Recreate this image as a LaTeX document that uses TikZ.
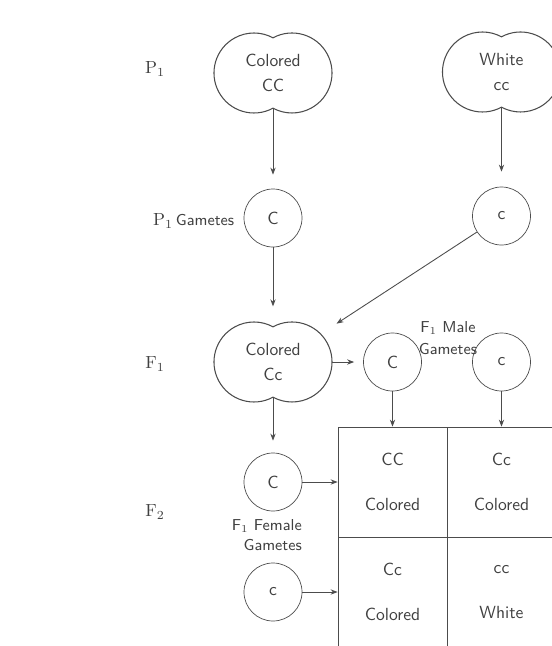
\documentclass[tikz,border=0pt]{standalone}
\usepackage{tikz}
\usetikzlibrary{arrows.meta,positioning}
\begin{document}
\begin{tikzpicture}[
      arrow/.style={
        -{Stealth[length=4pt,width=3pt]},
        draw=black!70,
        line width=0.5pt
      },
      lobe/.style={
        draw=black!70,
        line width=0.6pt
      },
      plant/.style={
        minimum width=2.36cm,
        minimum height=1.41cm,
        inner sep=0pt,
        align=center,
        text=black!75,
        font=\sffamily
      },
      gamete/.style={
        draw=black!70,
        circle,
        minimum size=1.16cm,
        inner sep=0pt,
        text=black!75,
        font=\sffamily
      },
      cell/.style={
        draw=black!70,
        minimum width=2.18cm,
        minimum height=2.2cm,
        align=center,
        text=black!75,
        font=\sffamily
      },
      heading/.style={
        text=black!75
      },
      gametes/.style={
        align=center,
        text=black!75,
        font=\small\sffamily
      }
    ]
    \useasboundingbox (0,0) rectangle (11.04,-12.92);

    % parents
    \node[plant] (p1c) at (5.46,-1.46) {Colored\\[0.8mm]CC};
    \node[plant] (p1w) at (10.03,-1.44) {White\\[0.8mm]cc};
    \node[gamete] (pgC) at (5.46,-4.36) {C};
    \node[gamete] (pgc) at (10.03,-4.32) {c};

    % first generation
    \node[plant] (f1) at (5.46,-7.24) {Colored\\[0.8mm]Cc};
    \node[gamete] (mgC) at (7.85,-7.24) {C};
    \node[gamete] (mgc) at (10.03,-7.24) {c};
    \node[gamete] (fgC) at (5.46,-9.64) {C};
    \node[gamete] (fgc) at (5.46,-11.84) {c};

    \foreach \n in {p1c,p1w,f1}
      \draw[lobe] (\n.center) ++(0,0.704) arc[start angle=118.4,end angle=-118.4,radius=0.8]
        arc[start angle=-61.6,end angle=-298.4,radius=0.8];

    % second generation
    \node[cell] (cCC) at (7.85,-9.64) {CC\\[4.8mm]Colored};
    \node[cell] (cCc) at (10.03,-9.64) {Cc\\[4.8mm]Colored};
    \node[cell] (cCc2) at (7.85,-11.84) {Cc\\[4.8mm]Colored};
    \node[cell] (ccc) at (10.03,-11.84) {cc\\[4.8mm]White};

    % row labels
    \node[heading] (lp1) at (3.1,-1.38) {P$_1$};
    \node[heading,anchor=west] (lpg) at (2.94,-4.42) {P$_1$\,{\small\sffamily Gametes}};
    \node[heading] (lf1) at (3.1,-7.28) {F$_1$};
    \node[heading] (lf2) at (3.1,-10.24) {F$_2$};
    \node[gametes] (lmale) at (8.96,-6.76) {F$_1$ Male\\[0.6mm]Gametes};
    \node[gametes,align=right,anchor=east] (lfemale) at (6.16,-10.7) {F$_1$ Female\\Gametes};

    \draw[arrow,shorten >=0.28cm] (p1c.south) -- (pgC.north);
    \draw[arrow,shorten >=0.3cm] (p1w.south) -- (pgc.north);
    \draw[arrow,shorten >=0.4cm] (pgC.south) -- (f1.north);
    \draw[arrow,shorten >=0.1cm] (pgc) -- (f1.north east);
    \draw[arrow,shorten >=0.18cm] (f1.east) -- (mgC.west);
    \draw[arrow,shorten >=0.24cm] (f1.south) -- (fgC.north);
    \draw[arrow] (mgC.south) -- (cCC.north);
    \draw[arrow] (mgc.south) -- (cCc.north);
    \draw[arrow] (fgC.east) -- (cCC.west);
    \draw[arrow] (fgc.east) -- (cCc2.west);

  \end{tikzpicture}
\end{document}
